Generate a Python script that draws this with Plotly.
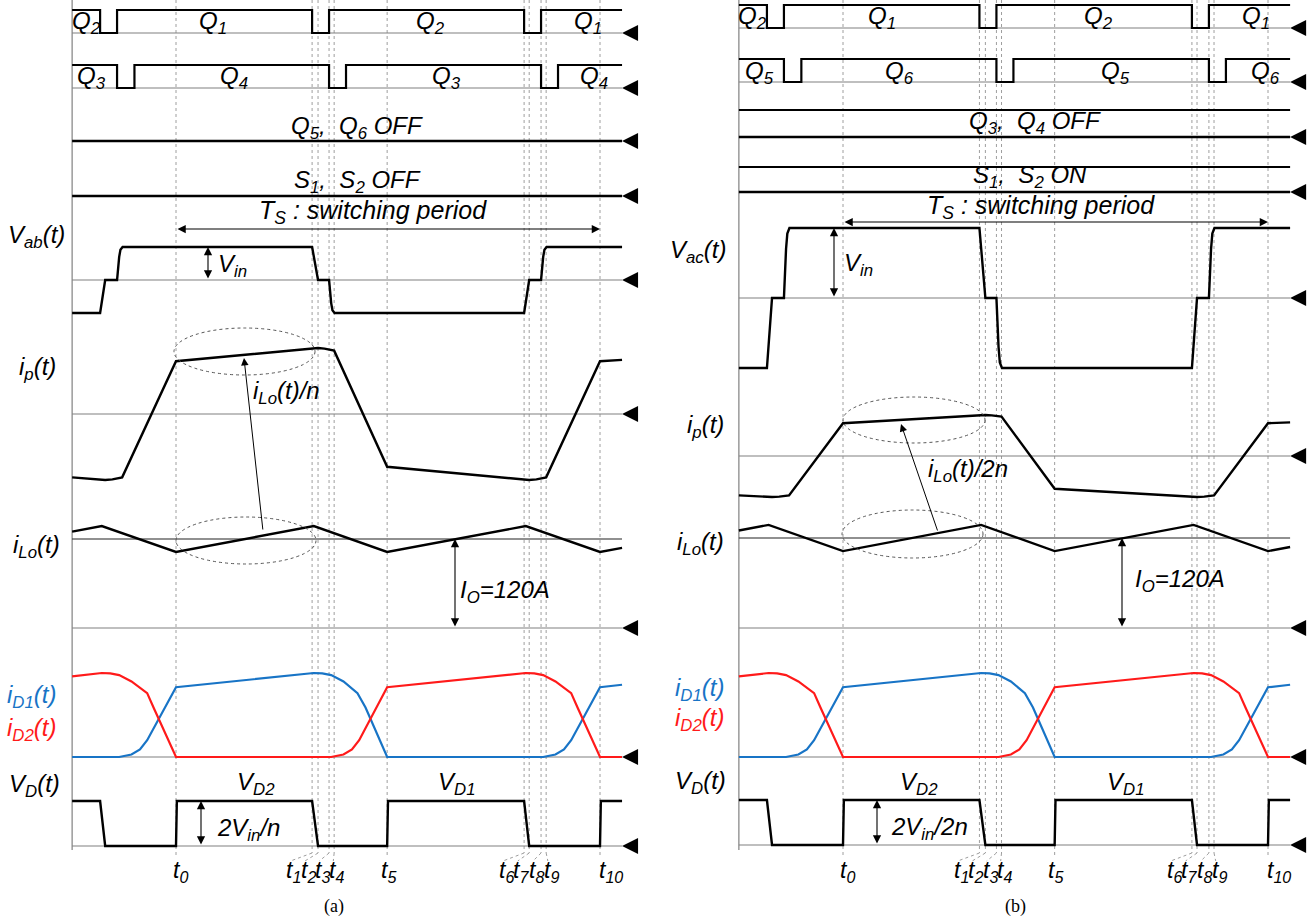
import plotly.graph_objects as go

W, H = 1313, 924
FONT = "Liberation Sans, Arial, sans-serif"
SERIF = "Liberation Serif, Times New Roman, serif"
BLUE = "#1874c6"
RED = "#ff1a1a"
GRAY = "#808080"
DOT = "#9e9e9e"

# ---------------- data (time in % of Ts : t0 = 0, t10 = 100) ----------------
T_EVENTS = [0.0, 32.1, 33.5, 36.1, 37.3, 49.8, 82.1, 83.3, 86.1, 87.3, 100.0]
T_NAMES = ["t<sub>0</sub>", "t<sub>1</sub>", "t<sub>2</sub>", "t<sub>3</sub>", "t<sub>4</sub>",
           "t<sub>5</sub>", "t<sub>6</sub>", "t<sub>7</sub>", "t<sub>8</sub>", "t<sub>9</sub>",
           "t<sub>10</sub>"]
T_SPAN = [-24.5, 105.2]

# gate signals (1 = on), step shaped
GATE_LEAD_T = [-24.5, -17.9, -13.9, 32.1, 36.1, 82.1, 86.1, 105.2]
GATE_LEAD_V = [1, 0, 1, 0, 1, 0, 1, 1]
GATE_LAG_T = [-24.5, -13.9, -9.8, 36.1, 40.1, 86.1, 90.1, 105.2]
GATE_LAG_V = [1, 0, 1, 0, 1, 0, 1, 1]
OFF_V = [0, 0]
ON_V = [1, 1]

# bridge voltage, per unit of Vin
VBR_T = [-24.5, -17.9, -16.7, -13.9, -13.4, -13.1, -12.6, 32.1, 33.5, 36.1, 36.6, 36.9, 37.4,
         82.1, 83.3, 86.1, 86.6, 86.9, 87.4, 105.2]
VBR_V = [-1, -1, 0, 0, 0.70, 0.92, 1, 1, 0, 0, -0.70, -0.92, -1,
         -1, 0, 0, 0.70, 0.92, 1, 1]

# primary current, per unit of its peak
IP_T = [-24.5, -17.9, -16.7, -15.0, -12.7, 0.0, 32.1, 33.5, 35.0, 37.3, 49.8,
        82.1, 83.3, 85.0, 87.3, 100.0, 105.2]
IP_V = [-0.96, -1.0, -1.0, -0.99, -0.96, 0.80, 1.0, 1.0, 0.99, 0.96, -0.80,
        -1.0, -1.0, -0.99, -0.96, 0.80, 0.82]

# output inductor current (A)
IO_A = 120
ILO_T = [-24.5, -17.5, 0.0, 32.5, 49.8, 82.5, 100.0, 105.2]
ILO_V = [130.0, 137.5, 102.5, 137.5, 102.5, 137.5, 102.5, 108.0]

# rectifier diode currents, per unit of peak
ID1_T = [-24.5, -13.4, -10.5, -8.5, -6.8, 0.0, 32.5, 34.5, 36.6, 39.5, 42.8, 44.7, 49.8,
         86.6, 89.5, 91.5, 93.2, 100.0, 105.2]
ID1_V = [0, 0, 0.03, 0.09, 0.20, 0.83, 1.0, 0.995, 0.975, 0.90, 0.76, 0.59, 0,
         0, 0.03, 0.09, 0.20, 0.83, 0.86]
ID2_T = [-24.5, -17.5, -15.5, -13.4, -10.5, -6.8, -5.3, 0.0, 36.6, 39.5, 41.5, 43.2, 49.8,
         82.5, 84.5, 86.6, 89.5, 93.2, 94.7, 100.0, 105.2]
ID2_V = [0.96, 1.0, 0.995, 0.975, 0.90, 0.76, 0.59, 0, 0, 0.03, 0.09, 0.20, 0.83,
         1.0, 0.995, 0.975, 0.90, 0.76, 0.59, 0, 0]

# diode voltage, per unit
VD_T = [-24.5, -17.9, -16.7, 0.0, 0.2, 32.1, 33.5, 49.8, 50.0, 82.1, 83.3, 100.0, 100.2, 105.2]
VD_V = [1, 1, 0, 0, 1, 1, 0, 0, 1, 1, 0, 0, 1, 1]

# ---------------- figure helpers ----------------
fig = go.Figure()
AX = {}
_yn = [0]


def new_y(xref, base_px, unit_px):
    """hidden y axis: value 0 at base_px, value 1 at base_px - unit_px"""
    _yn[0] += 1
    n = _yn[0]
    name = "yaxis" if n == 1 else "yaxis%d" % n
    ref = "y" if n == 1 else "y%d" % n
    AX[name] = dict(domain=[0, 1], range=[-(H - base_px) / unit_px, base_px / unit_px],
                    visible=False, fixedrange=True, anchor=xref)
    return ref


def set_x(idx, dom_px, t0_px, t10_px):
    s = (t10_px - t0_px) / 100.0
    name = "xaxis" if idx == 1 else "xaxis%d" % idx
    AX[name] = dict(domain=[dom_px[0] / W, dom_px[1] / W],
                    range=[(dom_px[0] - t0_px) / s, (dom_px[1] - t0_px) / s],
                    visible=False, fixedrange=True, anchor="y")
    return lambda px: (px - t0_px) / s


def trace(xr, yr, t, v, color="black", width=2.4, shape="linear"):
    fig.add_trace(go.Scatter(x=t, y=v, xaxis=xr, yaxis=yr, mode="lines",
                             line=dict(color=color, width=width, shape=shape),
                             hoverinfo="skip", showlegend=False, cliponaxis=False))


def tip(xr, yr):
    fig.add_trace(go.Scatter(x=[T_SPAN[1]], y=[0], xaxis=xr, yaxis=yr, mode="markers",
                             marker=dict(symbol="arrow-left", size=16, color="black",
                                         line=dict(width=0)),
                             hoverinfo="skip", showlegend=False, cliponaxis=False))


def baseline(xr, yr, color=GRAY, width=1.1, arrow=True):
    trace(xr, yr, T_SPAN, [0, 0], color=color, width=width)
    if arrow:
        tip(xr, yr)


ANN = []
SHP = []
FS = 24


def text(px, py, s, size=FS, color="black", xanchor="center", family=FONT):
    ANN.append(dict(x=px / W, y=1 - py / H, xref="paper", yref="paper", text=s,
                    showarrow=False, xanchor=xanchor, yanchor="middle",
                    font=dict(family=family, size=size, color=color)))


def darrow(xr, yr, t0, v0, t1, v1):
    ANN.append(dict(x=t1, y=v1, ax=t0, ay=v0, xref=xr, yref=yr, axref=xr, ayref=yr,
                    text="", showarrow=True, arrowside="end+start",
                    arrowhead=2, startarrowhead=2, arrowsize=1.5, startarrowsize=1.5,
                    arrowwidth=1.1, arrowcolor="black"))


def pointer(xr, yr, th, vh, tt, vt):
    ANN.append(dict(x=th, y=vh, ax=tt, ay=vt, xref=xr, yref=yr, axref=xr, ayref=yr,
                    text="", showarrow=True, arrowhead=2, arrowsize=1.5,
                    arrowwidth=1.0, arrowcolor="black"))


def vline(xr, yr, t0, p0, t1, p1, color=DOT, width=1, dash="dot"):
    SHP.append(dict(type="line", xref=xr, yref=yr, x0=t0, x1=t1, y0=p0, y1=p1,
                    line=dict(color=color, width=width, dash=dash), layer="below"))


def ellipse(xr, yr, ta, tb, pa, pb):
    SHP.append(dict(type="circle", xref=xr, yref=yr, x0=ta, x1=tb, y0=pa, y1=pb,
                    line=dict(color="#555555", width=1, dash="dot")))


LABEL_T = [1.0, 27.8, 31.2, 34.6, 37.9, 50.0, 77.9, 81.4, 85.0, 88.5, 102.7]
CLUSTER = [1, 2, 3, 4, 6, 7, 8, 9]


def common(xr, pxr):
    for i, t in enumerate(T_EVENTS):
        vline(xr, pxr, t, 0, t, 853 if i in CLUSTER else 858)
        if i in CLUSTER:
            vline(xr, pxr, t, 853, LABEL_T[i] - 0.8, 861)
    vline(xr, pxr, T_SPAN[0], 0, T_SPAN[0], 850, color=GRAY, width=1.2, dash="solid")
    for i, name in enumerate(T_NAMES):
        ANN.append(dict(x=LABEL_T[i], y=871, xref=xr, yref=pxr, text="<i>%s</i>" % name,
                        showarrow=False, xanchor="center", yanchor="middle",
                        font=dict(family=FONT, size=23, color="black")))


# ================= panel (a) =================
tA = set_x(1, (0, 656), 176, 600)
xa = "x"
pa = new_y(xa, 0, -1)
common(xa, pa)

y = new_y(xa, 33, 23); baseline(xa, y); trace(xa, y, GATE_LEAD_T, GATE_LEAD_V, width=2.2, shape="hv")
y = new_y(xa, 88, 23); baseline(xa, y); trace(xa, y, GATE_LAG_T, GATE_LAG_V, width=2.2, shape="hv")
y = new_y(xa, 141, 23); trace(xa, y, T_SPAN, OFF_V, width=2.6); tip(xa, y)
y = new_y(xa, 196, 23); trace(xa, y, T_SPAN, OFF_V, width=2.6); tip(xa, y)
yv = new_y(xa, 280, 33); baseline(xa, yv); trace(xa, yv, VBR_T, VBR_V)
darrow(xa, yv, tA(208), 0, tA(208), 1)
yi = new_y(xa, 414, 66); baseline(xa, yi); trace(xa, yi, IP_T, IP_V)
yl = new_y(xa, 628, 89 / 120); baseline(xa, yl)
trace(xa, yl, T_SPAN, [IO_A, IO_A], color="#222222", width=1.2)
trace(xa, yl, ILO_T, ILO_V)
darrow(xa, yl, tA(455), 0, tA(455), IO_A)
yd = new_y(xa, 757, 84); baseline(xa, yd)
trace(xa, yd, ID1_T, ID1_V, color=BLUE, width=2.2)
trace(xa, yd, ID2_T, ID2_V, color=RED, width=2.2)
yvd = new_y(xa, 846, 45); baseline(xa, yvd); trace(xa, yvd, VD_T, VD_V)
darrow(xa, yvd, tA(201), 0, tA(201), 1)
darrow(xa, pa, T_EVENTS[0], 229, T_EVENTS[-1], 229)
ellipse(xa, pa, tA(174), tA(315), 328, 375)
ellipse(xa, pa, tA(176), tA(316), 517, 564)
pointer(xa, pa, tA(244), 358, tA(263), 531)

for px, s in [(86, "Q<sub>2</sub>"), (213, "Q<sub>1</sub>"), (430, "Q<sub>2</sub>"), (588, "Q<sub>1</sub>")]:
    text(px, 23, "<i>%s</i>" % s)
for px, s in [(91, "Q<sub>3</sub>"), (234, "Q<sub>4</sub>"), (446, "Q<sub>3</sub>"), (594, "Q<sub>4</sub>")]:
    text(px, 78, "<i>%s</i>" % s)
text(357, 128, "<i>Q<sub>5</sub>,  Q<sub>6</sub> OFF</i>")
text(357, 181, "<i>S<sub>1</sub>,  S<sub>2</sub> OFF</i>")
text(373, 212, "<i>T<sub>S</sub> : switching period</i>", size=25)
text(67, 236, "<i>V<sub>ab</sub>(t)</i>", xanchor="right")
text(232, 266, "<i>V<sub>in</sub></i>")
text(58, 368, "<i>i<sub>p</sub>(t)</i>", xanchor="right")
text(286, 392, "<i>i<sub>Lo</sub>(t)/n</i>")
text(62, 546, "<i>i<sub>Lo</sub>(t)</i>", xanchor="right")
text(505, 591, "<i>I<sub>O</sub>=120A</i>")
text(58, 696, "<i>i<sub>D1</sub>(t)</i>", xanchor="right", color=BLUE)
text(58, 729, "<i>i<sub>D2</sub>(t)</i>", xanchor="right", color=RED)
text(62, 785, "<i>V<sub>D</sub>(t)</i>", xanchor="right")
text(256, 783, "<i>V<sub>D2</sub></i>")
text(456, 783, "<i>V<sub>D1</sub></i>")
text(249, 829, "<i>2V<sub>in</sub>/n</i>")
text(334, 906, "(a)", size=18, family=SERIF)

# ================= panel (b) =================
tB = set_x(2, (656, 1313), 843, 1268)
xb = "x2"
pb = new_y(xb, 0, -1)
common(xb, pb)

y = new_y(xb, 28, 23); baseline(xb, y); trace(xb, y, GATE_LEAD_T, GATE_LEAD_V, width=2.2, shape="hv")
y = new_y(xb, 82, 23); baseline(xb, y); trace(xb, y, GATE_LAG_T, GATE_LAG_V, width=2.2, shape="hv")
y = new_y(xb, 137, 27); trace(xb, y, T_SPAN, ON_V, width=1.8); trace(xb, y, T_SPAN, OFF_V, width=2.6); tip(xb, y)
y = new_y(xb, 192, 25); trace(xb, y, T_SPAN, ON_V, width=1.8); trace(xb, y, T_SPAN, OFF_V, width=2.6); tip(xb, y)
yv = new_y(xb, 298, 70); baseline(xb, yv); trace(xb, yv, VBR_T, VBR_V)
darrow(xb, yv, tB(834), 0, tB(834), 1)
yi = new_y(xb, 456, 41); baseline(xb, yi); trace(xb, yi, IP_T, IP_V)
yl = new_y(xb, 628, 90 / 120); baseline(xb, yl)
trace(xb, yl, T_SPAN, [IO_A, IO_A], color="#222222", width=1.2)
trace(xb, yl, ILO_T, ILO_V)
darrow(xb, yl, tB(1122), 0, tB(1122), IO_A)
yd = new_y(xb, 757, 84); baseline(xb, yd)
trace(xb, yd, ID1_T, ID1_V, color=BLUE, width=2.2)
trace(xb, yd, ID2_T, ID2_V, color=RED, width=2.2)
yvd = new_y(xb, 845, 45); baseline(xb, yvd); trace(xb, yvd, VD_T, VD_V)
darrow(xb, yvd, tB(877), 0, tB(877), 1)
darrow(xb, pb, T_EVENTS[0], 222, T_EVENTS[-1], 222)
ellipse(xb, pb, tB(843), tB(985), 397, 443)
ellipse(xb, pb, tB(842), tB(983), 510, 558)
pointer(xb, pb, tB(901), 424, tB(938), 532)

for px, s in [(752, "Q<sub>2</sub>"), (882, "Q<sub>1</sub>"), (1098, "Q<sub>2</sub>"), (1256, "Q<sub>1</sub>")]:
    text(px, 18, "<i>%s</i>" % s)
for px, s in [(759, "Q<sub>5</sub>"), (900, "Q<sub>6</sub>"), (1115, "Q<sub>5</sub>"), (1265, "Q<sub>6</sub>")]:
    text(px, 73, "<i>%s</i>" % s)
text(1035, 123, "<i>Q<sub>3</sub>,  Q<sub>4</sub> OFF</i>")
text(1030, 176, "<i>S<sub>1</sub>,  S<sub>2</sub> ON</i>")
text(1041, 207, "<i>T<sub>S</sub> : switching period</i>", size=25)
text(728, 252, "<i>V<sub>ac</sub>(t)</i>", xanchor="right")
text(858, 264, "<i>V<sub>in</sub></i>")
text(726, 426, "<i>i<sub>p</sub>(t)</i>", xanchor="right")
text(968, 470, "<i>i<sub>Lo</sub>(t)/2n</i>")
text(726, 543, "<i>i<sub>Lo</sub>(t)</i>", xanchor="right")
text(1180, 580, "<i>I<sub>O</sub>=120A</i>")
text(726, 689, "<i>i<sub>D1</sub>(t)</i>", xanchor="right", color=BLUE)
text(726, 719, "<i>i<sub>D2</sub>(t)</i>", xanchor="right", color=RED)
text(728, 782, "<i>V<sub>D</sub>(t)</i>", xanchor="right")
text(919, 783, "<i>V<sub>D2</sub></i>")
text(1125, 783, "<i>V<sub>D1</sub></i>")
text(930, 828, "<i>2V<sub>in</sub>/2n</i>")
text(1016, 906, "(b)", size=18, family=SERIF)

fig.update_layout(width=W, height=H, margin=dict(l=0, r=0, t=0, b=0),
                  paper_bgcolor="white", plot_bgcolor="rgba(0,0,0,0)",
                  showlegend=False, font=dict(family=FONT, color="black"),
                  annotations=ANN, shapes=SHP, **AX)

fig.write_html("out.html", include_plotlyjs=True, full_html=True,
               config={"displayModeBar": False, "staticPlot": True},
               post_script="document.body.style.margin='0';document.body.style.overflow='hidden';")
